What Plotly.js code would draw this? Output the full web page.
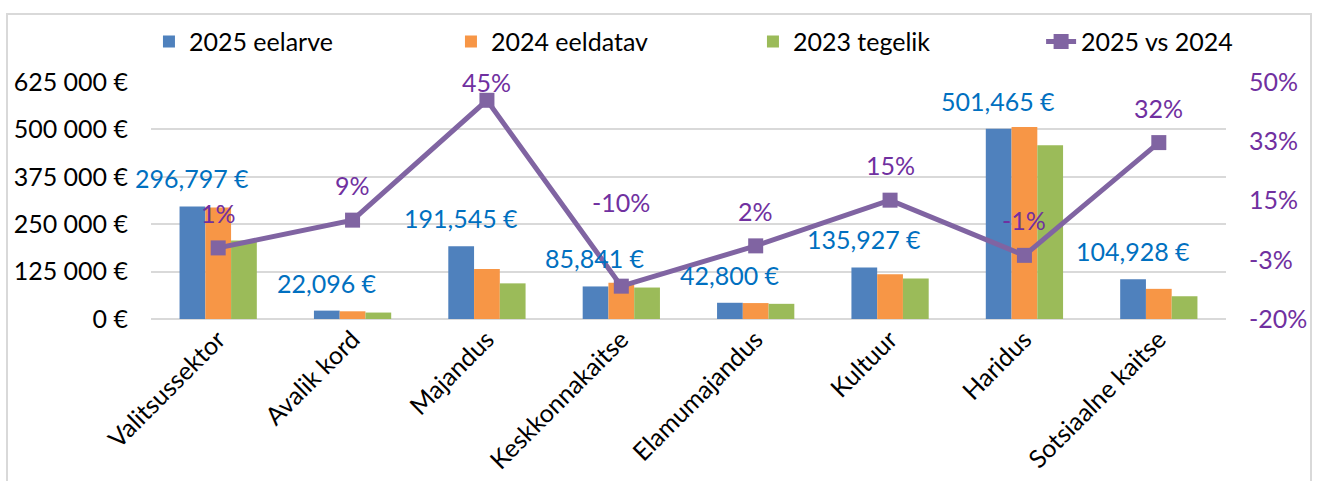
<!DOCTYPE html>
<html>
<head>
<meta charset="utf-8">
<script src="https://cdn.plot.ly/plotly-3.0.1.min.js"></script>
<style>
  html, body { margin: 0; padding: 0; background: #fff; }
  #frame { position: absolute; left: 6px; top: 13px; width: 1306px; height: 480px; border: 2px solid #D9D9D9; box-sizing: border-box; }
  #chart { position: absolute; left: 0; top: 0; width: 1317px; height: 481px; }
</style>
</head>
<body>
<div id="frame"></div>
<div id="chart"></div>
<script>
const categories = ['Valitsussektor', 'Avalik kord', 'Majandus', 'Keskkonnakaitse', 'Elamumajandus', 'Kultuur', 'Haridus', 'Sotsiaalne kaitse'];
const budget2025 = [296797, 22096, 191545, 85841, 42800, 135927, 501465, 104928];
const expected2024 = [293900, 20300, 132100, 95400, 42000, 118200, 506500, 79500];
const actual2023 = [207000, 17000, 94000, 83000, 40000, 106500, 458500, 60000];
const change2025vs2024 = [0.010, 0.092, 0.446, -0.103, 0.016, 0.151, -0.012, 0.321];

const seriesNames = ['2025 eelarve', '2024 eeldatav', '2023 tegelik', '2025 vs 2024'];
const leftTickVals = [0, 125000, 250000, 375000, 500000, 625000];
const leftTickText = ['0 €', '125 000 €', '250 000 €', '375 000 €', '500 000 €', '625 000 €'];
const rightTickVals = [-0.2, -0.025, 0.15, 0.325, 0.5];
const rightTickText = ['-20%', '-3%', '15%', '33%', '50%'];

const FONT = 'Lato, "Liberation Sans", sans-serif';
const FS = 25;
const BLUE = '#4F81BD', ORANGE = '#F79646', GREEN = '#9BBB59', PURPLE = '#8064A2';
const LABEL_BLUE = '#0070C0', LABEL_PURPLE = '#7030A0';

const traces = [
  { type: 'bar', name: seriesNames[0], x: categories, y: budget2025, marker: { color: BLUE }, legend: 'legend' },
  { type: 'bar', name: seriesNames[1], x: categories, y: expected2024, marker: { color: ORANGE }, legend: 'legend' },
  { type: 'bar', name: seriesNames[2], x: categories, y: actual2023, marker: { color: GREEN }, legend: 'legend' },
  { type: 'scatter', mode: 'lines+markers', name: seriesNames[3], x: categories, y: change2025vs2024, yaxis: 'y2',
    legend: 'legend2',
    line: { color: PURPLE, width: 5 }, marker: { symbol: 'square', size: 15, color: PURPLE }, cliponaxis: false }
];

// special label offsets for the line labels (Excel moved a couple of them)
const lineLabelShift = { 2: 18, 3: 84 };

const annotations = [];
categories.forEach((c, i) => {
  annotations.push({
    x: c, y: budget2025[i], xref: 'x', yref: 'y', xshift: -26, yshift: 28,
    text: budget2025[i].toLocaleString('en-US') + ' €', showarrow: false,
    font: { family: FONT, size: FS, color: LABEL_BLUE }, yanchor: 'middle'
  });
  annotations.push({
    x: c, y: change2025vs2024[i], xref: 'x', yref: 'y2', yshift: (lineLabelShift[i] !== undefined ? lineLabelShift[i] : 35),
    text: Math.round(change2025vs2024[i] * 100) + '%', showarrow: false,
    font: { family: FONT, size: FS, color: LABEL_PURPLE }, yanchor: 'middle'
  });
});

const legendFont = { family: FONT, size: FS, color: '#000' };
const layout = {
  width: 1317, height: 481,
  margin: { l: 151, r: 91, t: 82, b: 162, autoexpand: false },
  paper_bgcolor: 'rgba(0,0,0,0)', plot_bgcolor: 'rgba(0,0,0,0)',
  font: { family: FONT, size: FS, color: '#000' },
  barmode: 'group', bargap: 0.425, bargroupgap: 0,
  showlegend: true,
  legend: { orientation: 'h', x: -0.0019, xanchor: 'left', y: 1.17, yanchor: 'middle',
            entrywidth: 257, entrywidthmode: 'pixels', font: legendFont, traceorder: 'normal' },
  legend2: { orientation: 'h', x: 0.828, xanchor: 'left', y: 1.17, yanchor: 'middle', font: legendFont },
  xaxis: { type: 'category', range: [-0.5, 7.5], tickangle: -45, showgrid: false, zeroline: false, showline: false, ticks: '',
           automargin: false, tickfont: { family: FONT, size: FS, color: '#000' } },
  yaxis: { range: [0, 625000], tickvals: leftTickVals, ticktext: leftTickText, showgrid: true, automargin: false,
           gridcolor: '#D9D9D9', gridwidth: 2, zeroline: true, zerolinecolor: '#D9D9D9', zerolinewidth: 2,
           showline: false, ticks: '', ticklabelstandoff: 22, tickfont: { family: FONT, size: FS, color: '#000' } },
  yaxis2: { overlaying: 'y', side: 'right', range: [-0.2, 0.5], tickvals: rightTickVals, ticktext: rightTickText,
            showgrid: false, zeroline: false, showline: false, ticks: '', ticklabelstandoff: 22, automargin: false,
            tickfont: { family: FONT, size: FS, color: LABEL_PURPLE } },
  annotations: annotations
};

Plotly.newPlot('chart', traces, layout, { displayModeBar: false, staticPlot: true });
</script>
</body>
</html>
